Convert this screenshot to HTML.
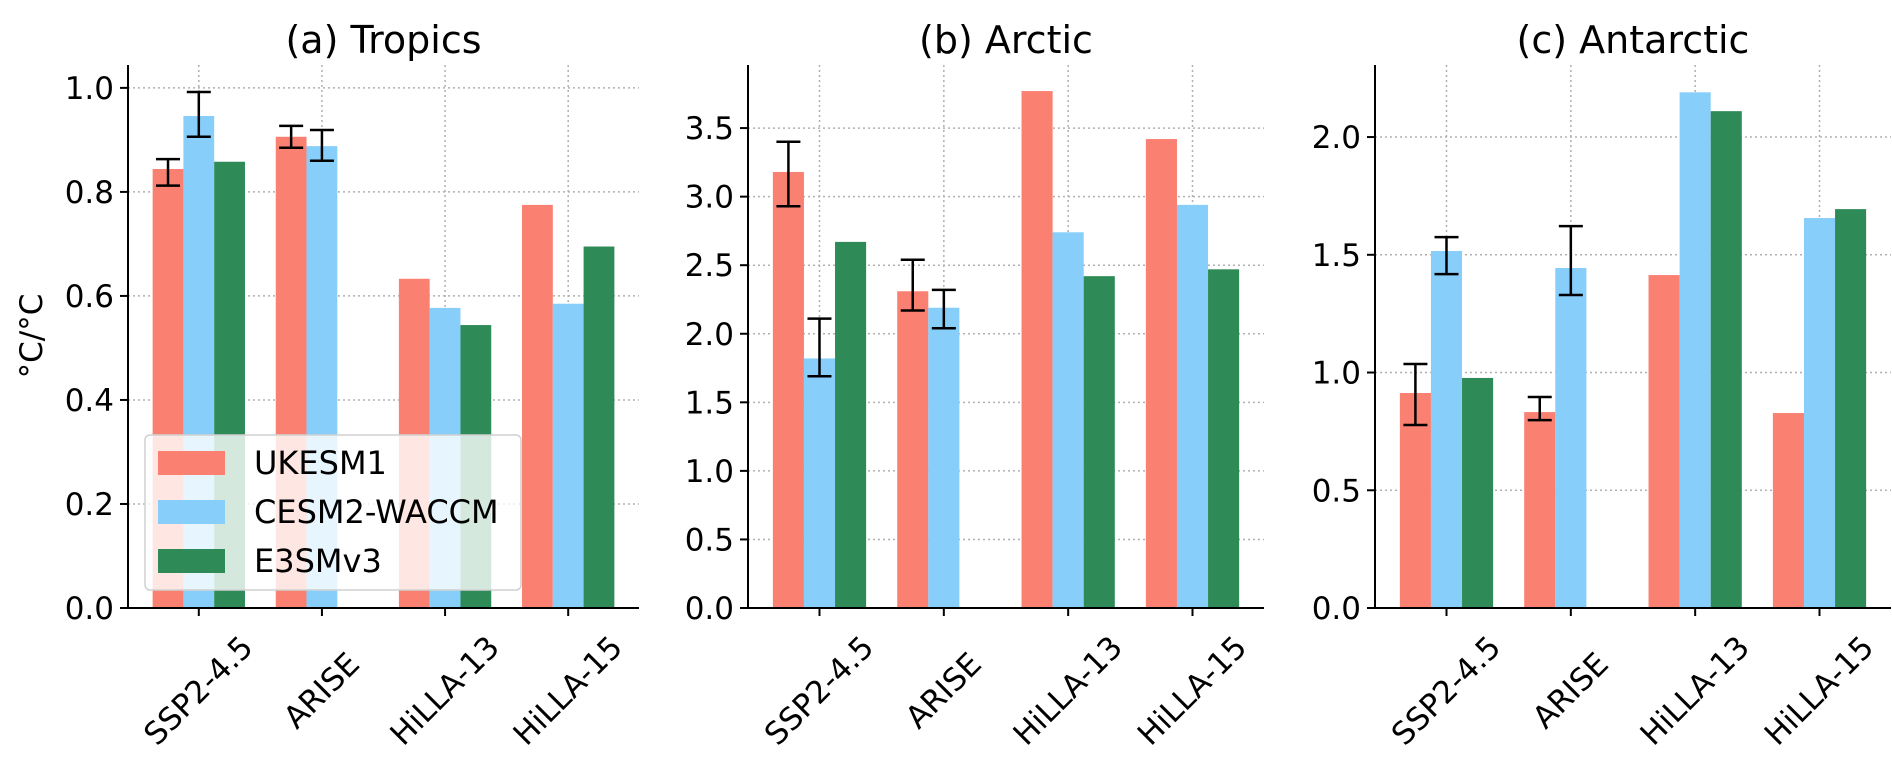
<!DOCTYPE html>
<html><head><meta charset="utf-8"><style>
html,body{margin:0;padding:0;background:#fff;}
svg{display:block;font-family:"DejaVu Sans","Liberation Sans",sans-serif;}
</style></head><body>
<svg id="chart" width="1892" height="770" viewBox="0 0 1892 770"></svg>
<script>
const categories = ["SSP2-4.5","ARISE","HiLLA-13","HiLLA-15"];
const seriesNames = ["UKESM1","CESM2-WACCM","E3SMv3"];
const tropicsUK = [0.844,0.906,0.633,0.775];
const tropicsCESM = [0.946,0.888,0.577,0.585];
const tropicsE3SM = [0.858,null,0.544,0.695];
const tropicsErrLo = [[0.812,0.885,null,null],[0.906,0.86,null,null],[null,null,null,null]];
const tropicsErrHi = [[0.863,0.927,null,null],[0.992,0.919,null,null],[null,null,null,null]];
const arcticUK = [3.18,2.31,3.77,3.42];
const arcticCESM = [1.82,2.19,2.74,2.94];
const arcticE3SM = [2.67,null,2.42,2.47];
const arcticErrLo = [[2.93,2.17,null,null],[1.69,2.04,null,null],[null,null,null,null]];
const arcticErrHi = [[3.40,2.54,null,null],[2.11,2.32,null,null],[null,null,null,null]];
const antUK = [0.913,0.832,1.414,0.828];
const antCESM = [1.516,1.444,2.19,1.656];
const antE3SM = [0.977,null,2.11,1.694];
const antErrLo = [[0.777,0.798,null,null],[1.418,1.329,null,null],[null,null,null,null]];
const antErrHi = [[1.036,0.896,null,null],[1.575,1.622,null,null],[null,null,null,null]];
const tropicsTicks = [0,0.2,0.4,0.6,0.8,1.0];
const arcticTicks = [0,0.5,1.0,1.5,2.0,2.5,3.0,3.5];
const antTicks = [0,0.5,1.0,1.5,2.0];
const tickLabelsA = ["0.0","0.2","0.4","0.6","0.8","1.0"];
const tickLabelsB = ["0.0","0.5","1.0","1.5","2.0","2.5","3.0","3.5"];
const tickLabelsC = ["0.0","0.5","1.0","1.5","2.0"];
const colors = ["#fa8072","#87cefa","#2e8b57"];

const NS="http://www.w3.org/2000/svg";
const svg=document.getElementById('chart');
function mk(tag,attrs,parent){const e=document.createElementNS(NS,tag);for(const k in attrs)e.setAttribute(k,attrs[k]);(parent||svg).appendChild(e);return e;}

const panels=[
 {title:"(a) Tropics",name:"tropics",left:128,right:639,ymax:1.044,series:[tropicsUK,tropicsCESM,tropicsE3SM],lo:tropicsErrLo,hi:tropicsErrHi,ticks:tropicsTicks,labels:tickLabelsA},
 {title:"(b) Arctic",name:"arctic",left:748,right:1264,ymax:3.96,series:[arcticUK,arcticCESM,arcticE3SM],lo:arcticErrLo,hi:arcticErrHi,ticks:arcticTicks,labels:tickLabelsB},
 {title:"(c) Antarctic",name:"antarctic",left:1375,right:1891,ymax:2.306,series:[antUK,antCESM,antE3SM],lo:antErrLo,hi:antErrHi,ticks:antTicks,labels:tickLabelsC}
];
const plotTop=65,plotBottom=608;
panels.forEach(p=>{
  const g=mk('g',{});
  
  
  const xmin=-0.575,xmax=3.575;
  const X=v=>p.left+(v-xmin)/(xmax-xmin)*(p.right-p.left);
  const Y=v=>plotBottom-v/p.ymax*(plotBottom-plotTop);
  p.ticks.forEach((t,i)=>{
    const l=mk('line',{x1:p.left,x2:p.right,y1:Y(t),y2:Y(t),stroke:'#b0b0b0','stroke-width':1.5,'stroke-dasharray':'2,3'},g);
    
    
  });
  categories.forEach((c,i)=>{
    const l=mk('line',{x1:X(i),x2:X(i),y1:plotTop,y2:plotBottom,stroke:'#b0b0b0','stroke-width':1.5,'stroke-dasharray':'2,3'},g);
    
    
  });
  const bw=0.25;
  p.series.forEach((s,si)=>{
    s.forEach((v,i)=>{
      if(v==null)return;
      const cx=i+(si-1)*bw;
      const r=mk('rect',{x:X(cx-bw/2),y:Y(v),width:X(cx+bw/2)-X(cx-bw/2),height:Y(0)-Y(v),fill:colors[si]},g);
      
      
    });
  });
  p.series.forEach((s,si)=>{
    s.forEach((v,i)=>{
      const lo=p.lo[si][i],hi=p.hi[si][i];
      if(lo==null||hi==null)return;
      const cx=X(i+(si-1)*bw);
      const eg=mk('g',{stroke:'#000','stroke-width':2.5},g);
      
      
      mk('line',{x1:cx,x2:cx,y1:Y(lo),y2:Y(hi)},eg);
      mk('line',{x1:cx-12,x2:cx+12,y1:Y(lo),y2:Y(lo)},eg);
      mk('line',{x1:cx-12,x2:cx+12,y1:Y(hi),y2:Y(hi)},eg);
    });
  });
  const ys=mk('line',{x1:p.left,x2:p.left,y1:plotTop,y2:plotBottom,stroke:'#000','stroke-width':2},g);
  
  
  const xs=mk('line',{x1:p.left-1,x2:p.right,y1:plotBottom,y2:plotBottom,stroke:'#000','stroke-width':2},g);
  
  
  p.ticks.forEach((t,i)=>{
    mk('line',{x1:p.left-8,x2:p.left,y1:Y(t),y2:Y(t),stroke:'#000','stroke-width':2},g);
    const tx=mk('text',{x:p.left-14,y:Y(t)+11,'text-anchor':'end','font-size':31,fill:'#000'},g);
    tx.textContent=p.labels[i];
    
    
  });
  categories.forEach((c,i)=>{
    mk('line',{x1:X(i),x2:X(i),y1:plotBottom,y2:plotBottom+8,stroke:'#000','stroke-width':2},g);
    const tx=mk('text',{x:X(i),y:691,'text-anchor':'middle','dominant-baseline':'central','font-size':31,fill:'#000',transform:`rotate(-45 ${X(i)} 691)`},g);
    tx.textContent=c;
    
    
  });
  const tt=mk('text',{x:(p.left+p.right)/2,y:53,'text-anchor':'middle','font-size':38,fill:'#000'},g);
  tt.textContent=p.title;
  
  
});
const yl=mk('text',{x:42,y:336,'text-anchor':'middle','font-size':31,fill:'#000',transform:'rotate(-90 42 336)'});
yl.textContent='°C/°C';


const lg=mk('g',{});


mk('rect',{x:145,y:435,width:376,height:155,rx:5,fill:'rgba(255,255,255,0.8)',stroke:'#d0d0d0','stroke-width':1.5},lg);
seriesNames.forEach((n,i)=>{
  const eg=mk('g',{},lg);
  
  
  const cy=463+i*49;
  mk('rect',{x:158,y:cy-12,width:67,height:24,fill:colors[i]},eg);
  const t=mk('text',{x:254,y:cy+11,'font-size':32,fill:'#000'},eg);
  t.textContent=n;
});
</script>
</body></html>
